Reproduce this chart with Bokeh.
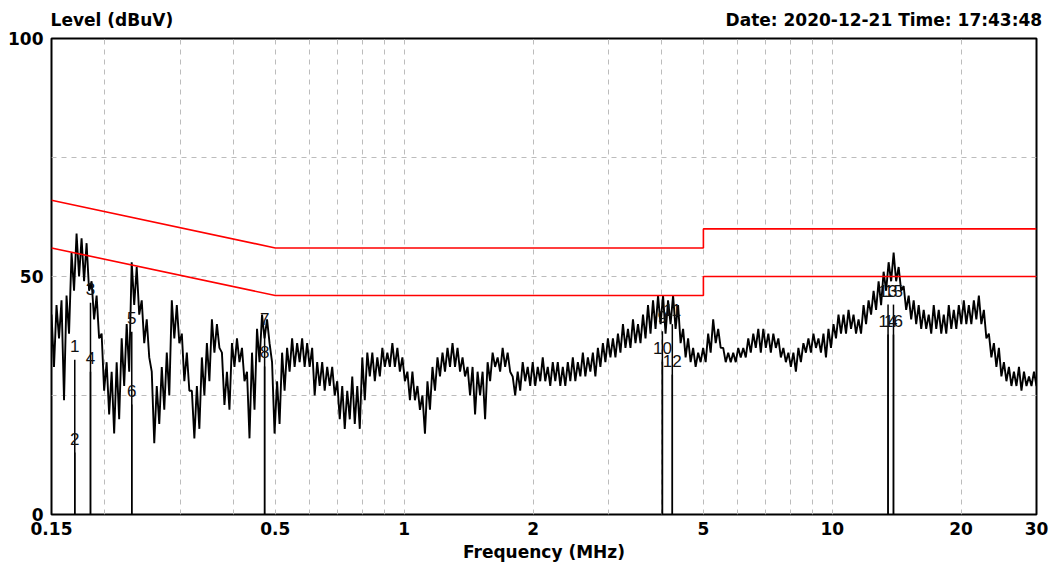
import numpy as np
from bokeh.plotting import figure
from bokeh.models import Range1d, FixedTicker, LogAxis, ColumnDataSource
from bokeh.core.properties import value
from bokeh.embed import file_html
from bokeh.resources import INLINE

# ---------------- data ----------------
freq_start, freq_stop = 0.15, 30.0  # MHz, sweep range

# measured trace level (dBuV), sweep points from 0.15 to 30 MHz (log-spaced sweep)
level = [
    42, 31, 44, 37, 45, 24, 46, 38, 55, 47, 59, 50, 58, 49, 57, 47,
    49, 41, 46, 37, 38, 26, 32, 21, 30, 17, 32, 20, 37, 27, 40, 30,
    53, 44, 52, 42, 45, 36, 41, 33, 30, 15, 27, 19, 31, 22, 34, 25,
    45, 37, 44, 36, 38, 28, 34, 26, 26, 16, 27, 18, 33, 25, 36, 28,
    41, 34, 40, 35, 34, 23, 30, 22, 36, 31, 37, 32, 35, 28, 30, 16,
    34, 22, 39, 32, 42, 37, 41, 36, 32, 17, 28, 19, 34, 26, 35, 30,
    37, 31, 36, 32, 37, 31, 36, 31, 35, 25, 32, 27, 32, 26, 31, 27,
    31, 25, 28, 20, 27, 18, 26, 20, 29, 19, 27, 18, 33, 24, 34, 29,
    34, 28, 33, 29, 35, 31, 34, 31, 36, 31, 35, 30, 33, 28, 30, 24,
    30, 24, 27, 22, 25, 17, 28, 22, 31, 26, 33, 29, 34, 30, 35, 31,
    36, 31, 35, 30, 33, 29, 31, 25, 31, 21, 30, 25, 30, 20, 32, 28,
    34, 31, 33, 30, 35, 31, 34, 30, 29, 25, 30, 26, 32, 28, 31, 27,
    32, 27, 31, 28, 33, 28, 31, 27, 32, 28, 32, 27, 31, 27, 32, 28,
    33, 28, 32, 29, 34, 29, 33, 30, 34, 29, 35, 31, 36, 32, 37, 33,
    37, 33, 38, 34, 40, 35, 39, 35, 41, 36, 40, 36, 42, 37, 44, 38,
    45, 39, 46, 40, 46, 38, 45, 40, 46, 39, 44, 36, 39, 33, 37, 32,
    35, 31, 34, 32, 35, 32, 38, 34, 41, 36, 39, 35, 35, 32, 34, 32,
    34, 32, 35, 33, 35, 33, 37, 34, 38, 35, 39, 34, 39, 35, 38, 34,
    38, 35, 37, 33, 35, 32, 34, 31, 34, 30, 35, 32, 36, 34, 37, 34,
    38, 35, 37, 34, 38, 33, 39, 35, 40, 37, 42, 38, 42, 38, 43, 39,
    42, 38, 41, 38, 44, 40, 45, 42, 47, 43, 49, 44, 51, 47, 53, 49,
    55, 49, 52, 47, 48, 43, 46, 41, 45, 40, 44, 39, 43, 39, 42, 38,
    44, 39, 43, 38, 42, 38, 44, 39, 43, 39, 44, 40, 45, 40, 44, 40,
    45, 41, 46, 40, 43, 37, 38, 33, 36, 31, 35, 29, 32, 28, 31, 27,
    30, 27, 31, 26, 30, 27, 29, 27, 30, 27,
]

# limit lines (EN 55032 class B style)
qp_limit_f = [0.15, 0.5, 5.0, 5.0, 30.0]
qp_limit_db = [66, 56, 56, 60, 60]
av_limit_f = [0.15, 0.5, 5.0, 5.0, 30.0]
av_limit_db = [56, 46, 46, 50, 50]

# markers
marker_id = ["1", "2", "3", "4", "5", "6", "7", "8",
             "9", "10", "11", "12", "13", "14", "15", "16"]
marker_f = [0.170, 0.170, 0.185, 0.185, 0.231, 0.231, 0.472, 0.472,
            4.01, 4.01, 4.23, 4.23, 13.5, 13.5, 13.9, 13.9]
marker_db = [32.5, 13.0, 44.5, 30.0, 38.4, 23.1, 38.2, 31.1,
             38.5, 32.1, 40.0, 29.4, 44.1, 37.8, 44.1, 37.8]

# ticks
x_ticks = [0.15, 0.5, 1, 2, 5, 10, 20, 30]
x_tick_labels = ["0.15", "0.5", "1", "2", "5", "10", "20", "30"]
x_grid = [0.2, 0.3, 0.4, 0.5, 0.6, 0.7, 0.8, 0.9, 1, 2, 3, 4, 5, 6, 7, 8, 9, 10, 20]
y_ticks = [0, 50, 100]
y_grid = [25, 50, 75]

title_left = "Level (dBuV)"
title_right = "Date: 2020-12-21 Time: 17:43:48"
x_label = "Frequency (MHz)"
# header text anchors (centre of each header text along the top edge, MHz)
header_anchor = [0.2076, 13.2]

FONT = "DejaVu Sans"

# ---------------- figure ----------------
W, H = 1060, 568
p = figure(width=W, height=H, x_axis_type="log",
           x_range=Range1d(freq_start, freq_stop), y_range=Range1d(0, 100),
           output_backend="svg", toolbar_location=None,
           min_border_left=51, min_border_right=24,
           min_border_top=38, min_border_bottom=54)
p.background_fill_color = "white"
p.border_fill_color = "white"
p.outline_line_color = "black"
p.outline_line_width = 2


def style_axis(ax):
    ax.axis_line_color = None
    ax.major_tick_line_color = None
    ax.minor_tick_line_color = None
    ax.major_tick_out = 0
    ax.major_tick_in = 0
    ax.minor_tick_out = 0
    ax.minor_tick_in = 0
    ax.major_label_text_font = FONT
    ax.major_label_text_font_style = "bold"
    ax.major_label_text_font_size = "17px"
    ax.major_label_text_color = "black"


# bottom axis
xax = p.xaxis[0]
xax.ticker = FixedTicker(ticks=x_ticks)
xax.major_label_overrides = {t: lab for t, lab in zip(x_ticks, x_tick_labels)}
style_axis(xax)
xax.major_label_standoff = 7
xax.axis_label = x_label
xax.axis_label_text_font = FONT
xax.axis_label_text_font_style = "bold"
xax.axis_label_text_font_size = "17px"
xax.axis_label_text_color = "black"
xax.axis_label_standoff = 4

# left axis
yax = p.yaxis[0]
yax.ticker = FixedTicker(ticks=y_ticks)
style_axis(yax)
yax.major_label_standoff = 8

# header line (left and right texts on the top edge)
top = LogAxis(ticker=FixedTicker(ticks=header_anchor),
              major_label_overrides={header_anchor[0]: title_left,
                                     header_anchor[1]: title_right})
style_axis(top)
top.major_label_standoff = 9
p.add_layout(top, "above")

p.xgrid.ticker = FixedTicker(ticks=x_grid)
p.ygrid.ticker = FixedTicker(ticks=y_grid)
for g in (p.xgrid, p.ygrid):
    g.grid_line_color = "#bcbcbc"
    g.grid_line_dash = "5 5"
    g.grid_line_width = 1

freq = np.geomspace(freq_start, freq_stop, len(level))
p.line(freq, level, color="black", line_width=1.9)

p.line(qp_limit_f, qp_limit_db, color="#ff0000", line_width=1.6)
p.line(av_limit_f, av_limit_db, color="#ff0000", line_width=1.6)

msrc = ColumnDataSource(dict(f=marker_f, db=marker_db, zero=[0] * len(marker_f), t=marker_id))
p.segment(x0="f", y0="zero", x1="f", y1="db", source=msrc, color="black", line_width=1.5)
p.text(x="f", y="db", text="t", source=msrc, text_align="center", text_baseline="middle",
       y_offset=-14, text_font=value("Liberation Sans"), text_font_size="17px",
       text_color="#111111")

open("out.html", "w").write(file_html(p, INLINE))
